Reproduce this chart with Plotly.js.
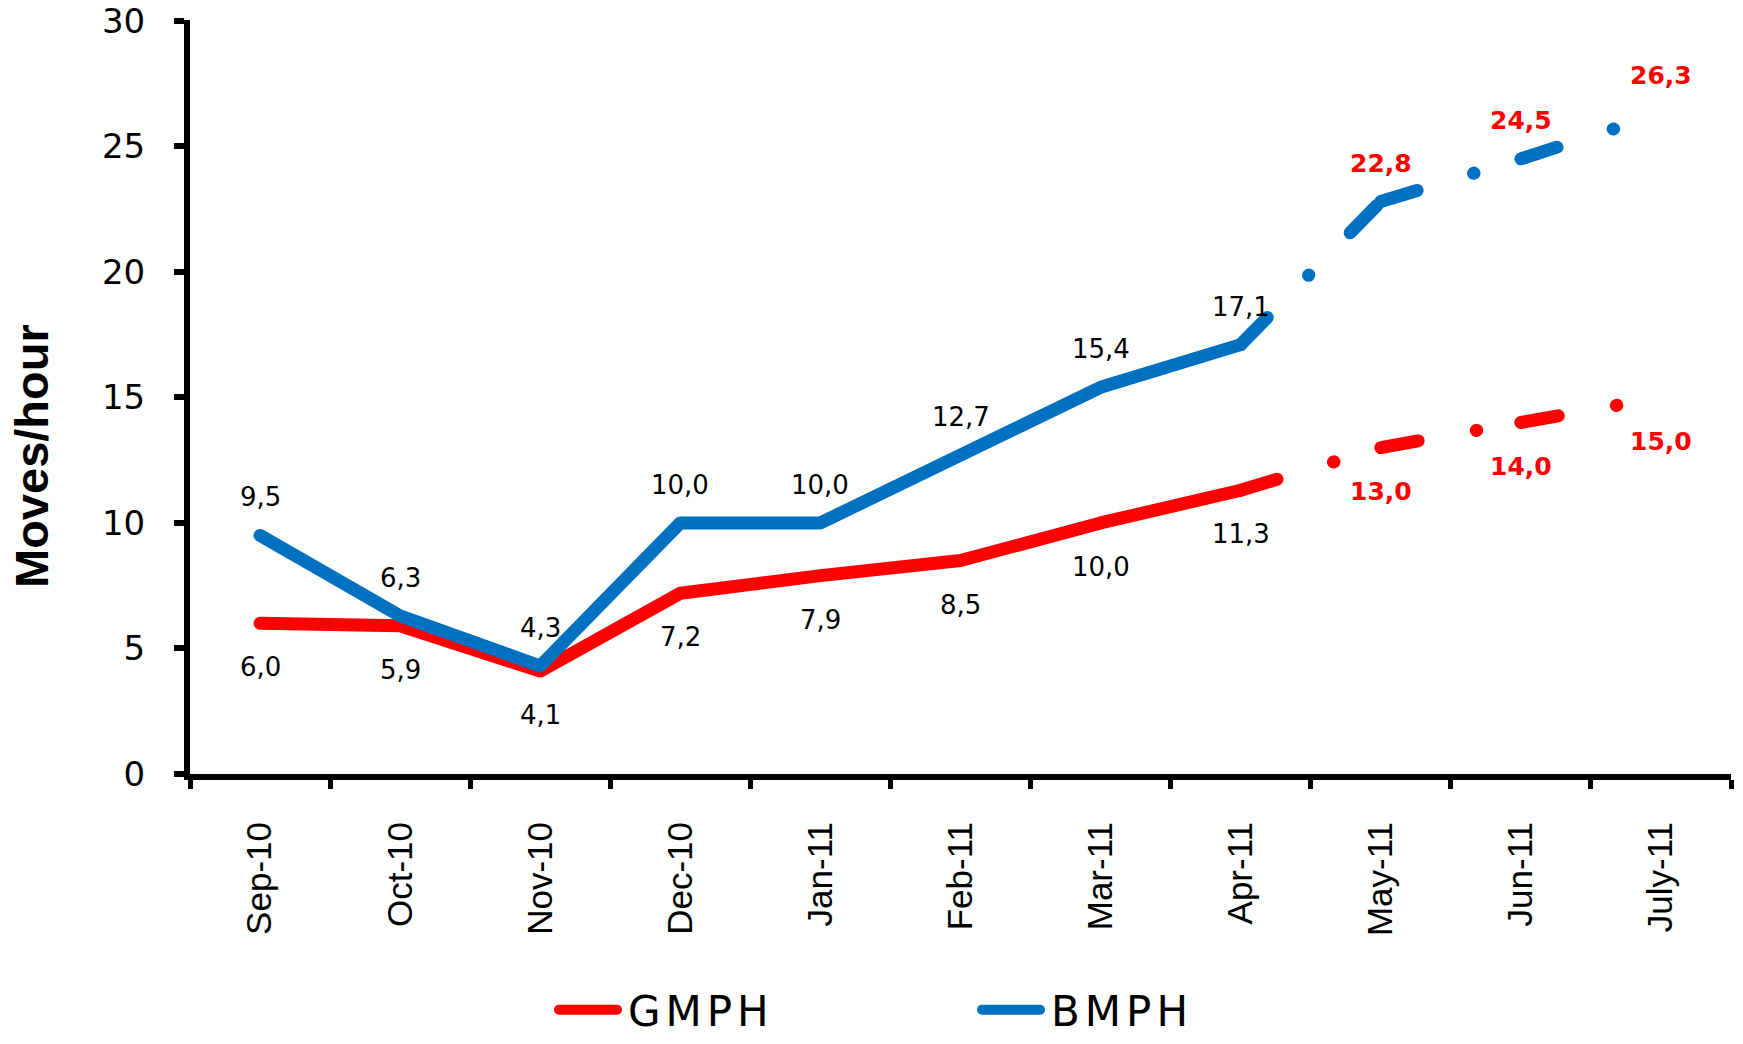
<!DOCTYPE html>
<html><head><meta charset="utf-8">
<script src="https://cdn.plot.ly/plotly-3.0.1.min.js"></script>
<style>
html,body{margin:0;padding:0;background:#fff;}
#chart{width:1743px;height:1044px;}
.scatterlayer .js-line{stroke-linecap:round;stroke-linejoin:round;}
.legendlines path{stroke-linecap:round;}
.legendtext{letter-spacing:5px;}
</style></head><body><div id="chart"></div>
<script>
// ---- data ----
const months = ['Sep-10','Oct-10','Nov-10','Dec-10','Jan-11','Feb-11','Mar-11','Apr-11','May-11','Jun-11','July-11'];
const gmph = [6.0, 5.9, 4.1, 7.2, 7.9, 8.5, 10.0, 11.3, 13.0, 14.0, 15.0];
const bmph = [9.5, 6.3, 4.3, 10.0, 10.0, 12.7, 15.4, 17.1, 22.8, 24.5, 26.3];
const seriesNames = ['GMPH', 'BMPH'];
const lastActualIndex = 7; // Apr-11: later months are forecasts
const yTicks = [0, 5, 10, 15, 20, 25, 30];

// ---- styling ----
const colors = {GMPH: '#FF0000', BMPH: '#0070C0'};
const LW = 13;
const forecastDash = '38px,59px,0.5px,59px';
const seriesData = {GMPH: gmph, BMPH: bmph};

const traces = [];
const annotations = [];
const fmt = v => v.toFixed(1).replace('.', ',');

seriesNames.forEach(name => {
  const vals = seriesData[name];
  traces.push({
    type: 'scatter', mode: 'lines', name: name,
    x: months.slice(0, lastActualIndex + 1),
    y: vals.slice(0, lastActualIndex + 1),
    line: {color: colors[name], width: LW},
    hoverinfo: 'skip', showlegend: true, legendgroup: name
  });
  for (let i = lastActualIndex; i < months.length - 1; i++) {
    traces.push({
      type: 'scatter', mode: 'lines', name: name,
      x: [months[i], months[i + 1]],
      y: [vals[i], vals[i + 1]],
      line: {color: colors[name], width: LW, dash: forecastDash},
      hoverinfo: 'skip', showlegend: false, legendgroup: name
    });
  }
  const above = name === 'BMPH';
  vals.forEach((v, i) => {
    const forecast = i > lastActualIndex;
    annotations.push({
      x: months[i], y: v, xref: 'x', yref: 'y',
      text: forecast ? '<b>' + fmt(v) + '</b>' : fmt(v),
      showarrow: false, xanchor: 'center', yanchor: 'middle',
      yshift: above ? 38 : -44,
      font: {family: 'DejaVu Sans, Verdana, sans-serif', size: forecast ? 25 : 26,
             color: forecast ? '#FF0000' : '#000000'}
    });
  });
});

annotations.push({
  text: 'Moves/hour', xref: 'paper', yref: 'paper',
  x: -0.1025, y: 0.4218, xanchor: 'center', yanchor: 'middle',
  showarrow: false, textangle: -90,
  font: {family: 'Liberation Sans, Arial, sans-serif', size: 47, color: '#000', weight: 'bold'}
});

const layout = {
  width: 1743, height: 1044,
  margin: {l: 190, r: 12, t: 20, b: 270},
  paper_bgcolor: '#ffffff', plot_bgcolor: '#ffffff',
  showlegend: true,
  xaxis: {
    type: 'category', categoryorder: 'array', categoryarray: months,
    range: [-0.5, months.length - 0.5],
    showline: true, linecolor: '#000', linewidth: 6,
    ticks: 'outside', tickson: 'boundaries', ticklen: 9, tickwidth: 5, tickcolor: '#000',
    tickangle: -90, ticklabelstandoff: 28, automargin: false,
    tickfont: {family: 'Liberation Sans, Arial, sans-serif', size: 35, color: '#000'},
    showgrid: false, zeroline: false, fixedrange: true
  },
  yaxis: {
    range: [0, 30.03], tickvals: yTicks, ticktext: yTicks.map(String),
    showline: true, linecolor: '#000', linewidth: 6,
    ticks: 'outside', ticklen: 10, tickwidth: 6, tickcolor: '#000',
    ticklabelstandoff: 22, automargin: false,
    tickfont: {family: 'DejaVu Sans, Verdana, sans-serif', size: 34, color: '#000'},
    showgrid: false, zeroline: false, fixedrange: true
  },
  legend: {
    orientation: 'h', xref: 'container', yref: 'container',
    x: 0.3144, y: 0.0, xanchor: 'left', yanchor: 'bottom',
    font: {family: 'DejaVu Sans, Verdana, sans-serif', size: 42, color: '#000'},
    entrywidth: 338, entrywidthmode: 'pixels', itemwidth: 70,
    traceorder: 'normal', bgcolor: 'rgba(0,0,0,0)'
  },
  annotations: annotations
};

Plotly.newPlot('chart', traces, layout, {staticPlot: true, displayModeBar: false}).then(gd => {
  // lengthen the legend line samples to match the reference
  gd.querySelectorAll('.legendlines path').forEach(p => p.setAttribute('d', 'M11,0h58'));
});
</script></body></html>
